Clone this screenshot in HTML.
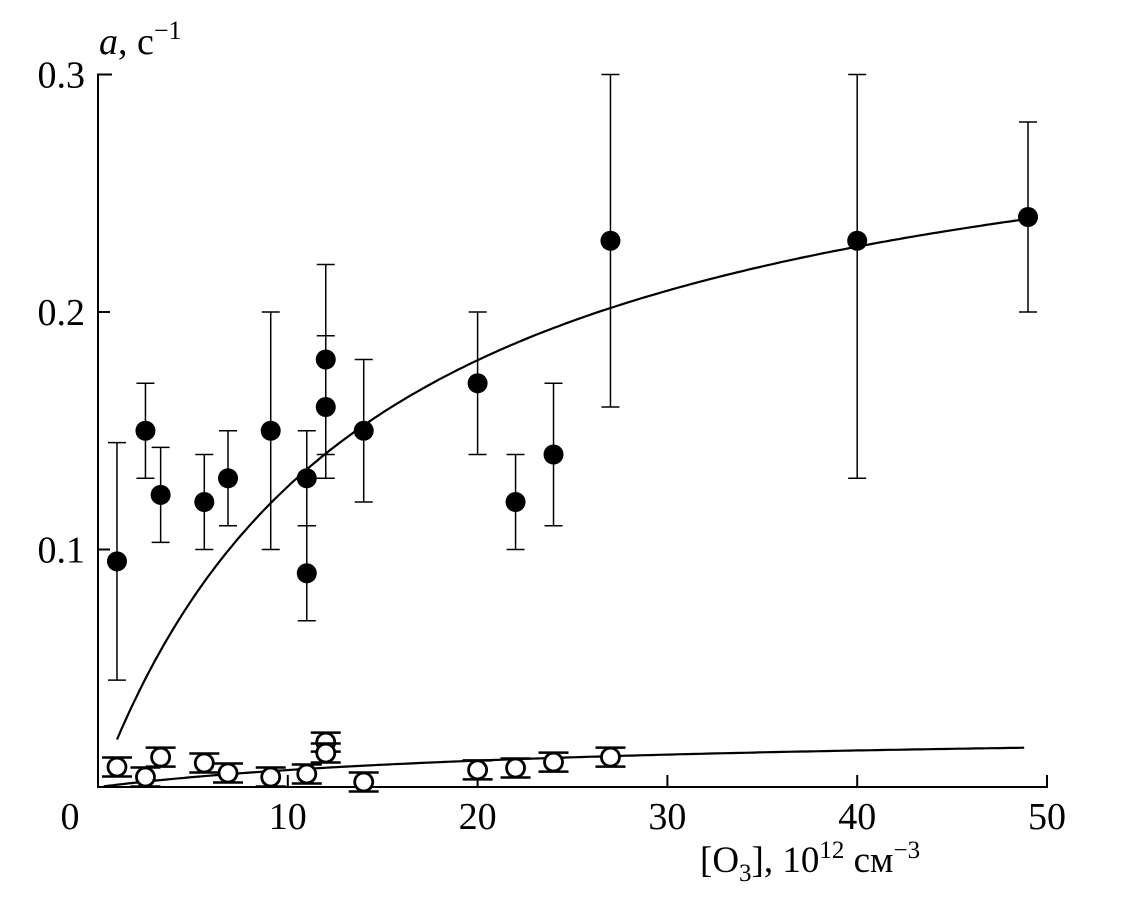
<!DOCTYPE html>
<html><head><meta charset="utf-8"><style>
body{margin:0;background:#fff}
svg{display:block;font-family:"Liberation Serif",serif}
</style></head><body>
<svg width="1125" height="919">
<g id="plot"></g>
</svg>
<script>
const xTicks=[0,10,20,30,40,50];
const yTicks=[0.1,0.2,0.3];
const fx=[1.0,2.5,3.3,5.6,6.85,9.1,11,11,12,12,14,20,22,24,27,40,49];
const fy=[0.095,0.15,0.123,0.12,0.13,0.15,0.13,0.09,0.18,0.16,0.15,0.17,0.12,0.14,0.23,0.23,0.24];
const fLo=[0.045,0.13,0.103,0.10,0.11,0.10,0.11,0.07,0.13,0.14,0.12,0.14,0.10,0.11,0.16,0.13,0.20];
const fHi=[0.145,0.17,0.143,0.14,0.15,0.20,0.15,0.11,0.22,0.19,0.18,0.20,0.14,0.17,0.30,0.30,0.28];
const ox=[1.0,2.5,3.3,5.6,6.85,9.1,11,12,12,14,20,22,24,27];
const oy=[0.0084,0.0042,0.0126,0.0101,0.0059,0.0042,0.0055,0.0189,0.0143,0.0021,0.0072,0.008,0.0105,0.0126];
const oErr=[0.004,0.004,0.004,0.004,0.004,0.004,0.004,0.004,0.004,0.004,0.004,0.004,0.004,0.004];
const fitA=0.31, fitK=14.5, fitA2=0.025, fitK2=25;
const X=v=>98+v*18.98, Y=v=>787-v*2375;
const g=document.getElementById('plot'), NS='http://www.w3.org/2000/svg';
function mk(t,a,p){const e=document.createElementNS(NS,t);for(const k in a)e.setAttribute(k,a[k]);(p||g).appendChild(e);return e;}
let e;
e=mk('path',{d:`M${X(0)+14},${Y(0.3)} H${X(0)} V${Y(0)} H${X(50)} V${Y(0)-12}`,fill:'none',stroke:'#000','stroke-width':2});


xTicks.forEach(t=>{
 if(t>0&&t<50){e=mk('line',{x1:X(t),x2:X(t),y1:Y(0),y2:Y(0)-12,stroke:'#000','stroke-width':2});
 
 }
 e=mk('text',{x:t===0?X(t)-28:X(t),y:829,'font-size':38,'text-anchor':'middle'});e.textContent=t;
 
 
});
yTicks.forEach(t=>{
 if(t<0.3){e=mk('line',{x1:X(0),x2:X(0)+12,y1:Y(t),y2:Y(t),stroke:'#000','stroke-width':2});
 
 }
 e=mk('text',{x:85,y:Y(t)+13,'font-size':38,'text-anchor':'end'});e.textContent=t.toFixed(1);
 
 
});
e=mk('text',{x:99,y:54,'font-size':38});
e.innerHTML='<tspan font-style="italic">a</tspan>, c<tspan dy="-15" font-size="26">−1</tspan>';


e=mk('text',{x:700,y:872,'font-size':37});
e.innerHTML='[O<tspan dy="9" font-size="25">3</tspan><tspan dy="-9">], 10</tspan><tspan dy="-14" font-size="25">12</tspan><tspan dy="14"> см</tspan><tspan dy="-14" font-size="25">−3</tspan>';


function curve(A,K,x0,x1,name){let d='';for(let x=x0;x<=x1+1e-9;x+=0.25){d+=(d?'L':'M')+X(x).toFixed(1)+','+Y(A*x/(K+x)).toFixed(1);}
 const p=mk('path',{d,fill:'none',stroke:'#000','stroke-width':2.2});
 
 }
curve(fitA,fitK,1.0,49,'fit-curve-filled');
curve(fitA2,fitK2,0.3,49,'fit-curve-open');
fx.forEach((x,i)=>{
 const gg=mk('g',{});
 
 
 const hi=Math.min(fHi[i],0.3);
 mk('line',{x1:X(x),x2:X(x),y1:Y(fLo[i]),y2:Y(hi),stroke:'#000','stroke-width':1.5},gg);
 mk('line',{x1:X(x)-9,x2:X(x)+9,y1:Y(fLo[i]),y2:Y(fLo[i]),stroke:'#000','stroke-width':1.5},gg);
 mk('line',{x1:X(x)-9,x2:X(x)+9,y1:Y(hi),y2:Y(hi),stroke:'#000','stroke-width':1.5},gg);
 mk('circle',{cx:X(x),cy:Y(fy[i]),r:10,fill:'#000'},gg);
});
ox.forEach((x,i)=>{
 const gg=mk('g',{});
 
 
 [oy[i]-oErr[i],oy[i]+oErr[i]].forEach(v=>mk('line',{x1:X(x)-15,x2:X(x)+15,y1:Y(v),y2:Y(v),stroke:'#000','stroke-width':2.5},gg));
 mk('circle',{cx:X(x),cy:Y(oy[i]),r:9,fill:'#fff',stroke:'#000','stroke-width':2.8},gg);
});
</script>
</body></html>
